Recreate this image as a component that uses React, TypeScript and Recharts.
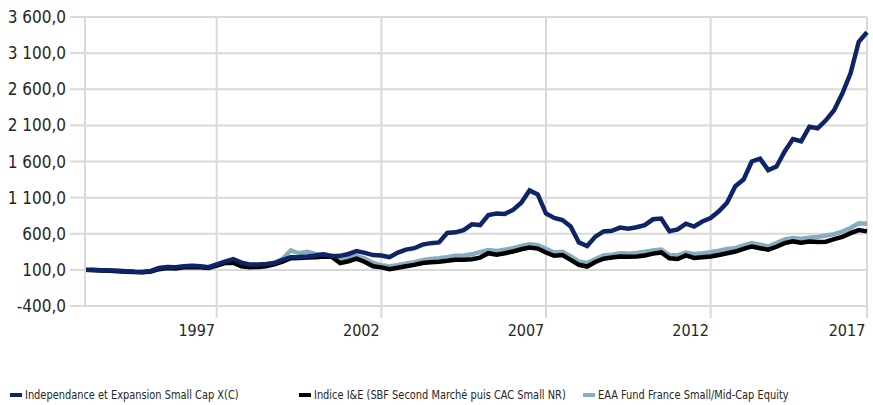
import { CartesianGrid, Legend, Line, LineChart, XAxis, YAxis } from "recharts"

// quarterly points, Dec 1993 -> Sep 2017
const fundValues = [
  100, 98, 96, 92, 88, 82, 75, 72, 85, 125, 140, 135, 150, 158, 150, 138, 176, 215, 250, 200,
  176, 176, 180, 195, 240, 276, 278, 285, 300, 315, 290, 294, 320, 360, 335, 305, 300, 276, 340, 380,
  400, 450, 470, 480, 610, 620, 650, 730, 720, 860, 880, 875, 930, 1030, 1200, 1145, 880, 818, 790, 700,
  480, 430, 560, 632, 640, 685, 670, 690, 720, 800, 810, 635, 660, 740, 700, 770, 818, 910, 1030, 1257,
  1350, 1600, 1640, 1480, 1530, 1740, 1910, 1880, 2080, 2060, 2170, 2310, 2540, 2820, 3257, 3390,
]

const indexValues = [
  100, 97, 93, 88, 82, 75, 70, 68, 78, 110, 125, 120, 135, 140, 135, 125, 160, 195, 200, 150,
  137, 140, 150, 175, 215, 262, 265, 270, 275, 285, 280, 193, 220, 255, 210, 150, 135, 109, 130, 150,
  169, 195, 207, 214, 225, 240, 240, 248, 270, 331, 310, 330, 355, 385, 410, 395, 340, 295, 305, 239,
  170, 146, 210, 255, 270, 285, 280, 285, 300, 325, 341, 260, 250, 300, 265, 275, 285, 305, 330, 354,
  390, 424, 400, 380, 420, 470, 494, 475, 494, 485, 490, 525, 555, 609, 650, 633,
]

const peerValues = [
  100, 98, 95, 91, 86, 80, 74, 72, 82, 120, 134, 130, 145, 152, 146, 134, 170, 205, 225, 180,
  160, 162, 170, 195, 250, 370, 330, 350, 320, 310, 300, 245, 270, 290, 255, 195, 165, 150, 165, 190,
  205, 235, 250, 260, 275, 295, 300, 315, 345, 375, 360, 380, 400, 430, 455, 440, 390, 340, 350, 290,
  215, 195, 250, 300, 310, 330, 325, 335, 350, 370, 380, 305, 300, 340, 320, 330, 345, 365, 390, 400,
  440, 471, 450, 424, 470, 520, 540, 530, 545, 555, 575, 595, 630, 679, 745, 740,
]

const xTicks = [16, 36, 56, 76, 95]
const xTickLabels = ["1997", "2002", "2007", "2012", "2017"]
const yTicks = [-400, 100, 600, 1100, 1600, 2100, 2600, 3100, 3600]

const seriesNames = [
  "Independance et Expansion Small Cap X(C)",
  "Indice I&E (SBF Second Marché puis CAC Small NR)",
  "EAA Fund France Small/Mid-Cap Equity",
]
const seriesColors = ["#0f2466", "#000000", "#86adbf"]
const legendLeft = [10, 299, 583]

const data = fundValues.map((v, i) => ({
  i,
  fund: v,
  index: indexValues[i],
  peer: peerValues[i],
}))

const FONT = '"DejaVu Sans Condensed", "Liberation Sans", sans-serif'
const GRID = "#d9d9d9"
const TEXT = "#262626"

function formatY(v: number) {
  const s = Math.abs(v).toFixed(1).replace(".", ",")
  const [int, dec] = s.split(",")
  const grouped = int.replace(/\B(?=(\d{3})+(?!\d))/g, " ")
  return `${v < 0 ? "-" : ""}${grouped},${dec}`
}

function XTick(props: any) {
  const { x, payload } = props
  const idx = xTicks.indexOf(payload.value)
  return (
    <text x={x - 20} y={336} textAnchor="middle" fontFamily={FONT} fontSize={16} fill={TEXT}>
      {xTickLabels[idx]}
    </text>
  )
}

function ChartLegend() {
  return (
    <div style={{ position: "relative", height: 21, width: 873, fontFamily: FONT, fontSize: 13, color: TEXT }}>
      {seriesNames.map((name, k) => (
        <div
          key={name}
          style={{ position: "absolute", left: legendLeft[k], top: 0, height: 21, display: "flex", alignItems: "center", whiteSpace: "nowrap" }}
        >
          <span style={{ flexShrink: 0, width: 12, height: 4, background: seriesColors[k], marginRight: 3 }} />
          <span style={{ display: "inline-block", transform: "scaleX(0.84)", transformOrigin: "left center" }}>{name}</span>
        </div>
      ))}
    </div>
  )
}

export default function App() {
  return (
    <div style={{ position: "absolute", left: 0, top: 0, background: "#fff" }}>
      <LineChart width={873} height={405} data={data} margin={{ top: 17, right: 6, left: 0, bottom: 0 }}>
        <CartesianGrid stroke={GRID} strokeWidth={2} />
        <XAxis
          dataKey="i"
          type="number"
          domain={[0, 95]}
          ticks={xTicks}
          height={78}
          axisLine={{ stroke: GRID, strokeWidth: 2 }}
          tickLine={{ stroke: GRID, strokeWidth: 2 }}
          tickSize={12}
          tick={<XTick />}
          interval={0}
        />
        <YAxis
          domain={[-400, 3600]}
          ticks={yTicks}
          width={85}
          tickFormatter={formatY}
          axisLine={{ stroke: GRID, strokeWidth: 2 }}
          tickLine={{ stroke: GRID, strokeWidth: 2 }}
          tickSize={15}
          tickMargin={4}
          tick={{ fontFamily: FONT, fontSize: 17, fill: TEXT }}
          interval={0}
        />
        <Legend verticalAlign="bottom" content={<ChartLegend />} />
        <Line dataKey="peer" stroke={seriesColors[2]} strokeWidth={4.5} dot={false} isAnimationActive={false} />
        <Line dataKey="index" stroke={seriesColors[1]} strokeWidth={4.5} dot={false} isAnimationActive={false} />
        <Line dataKey="fund" stroke={seriesColors[0]} strokeWidth={4.5} dot={false} isAnimationActive={false} />
      </LineChart>
    </div>
  )
}
